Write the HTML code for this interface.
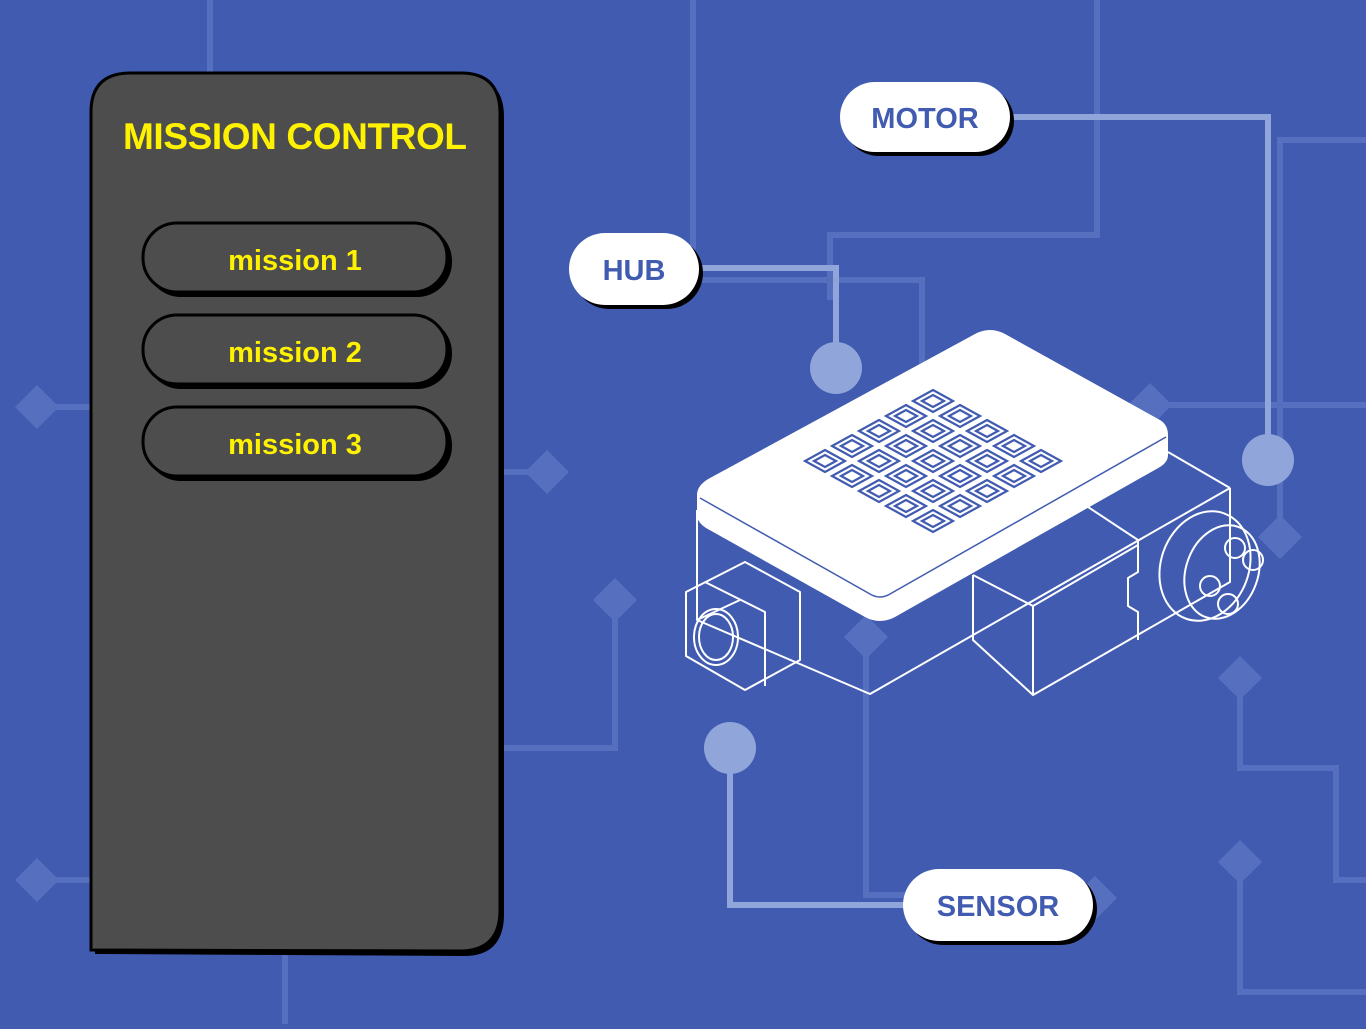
<!DOCTYPE html>
<html><head><meta charset="utf-8"><style>
html,body{margin:0;padding:0;}
body{width:1366px;height:1024px;background:#405bb0;overflow:hidden;font-family:"Liberation Sans",sans-serif;}
</style></head><body>
<svg width="1366" height="1024" viewBox="0 0 1366 1024" xmlns="http://www.w3.org/2000/svg">
<rect width="1366" height="1024" fill="#405bb0"/>
<g stroke="#5670bf" stroke-width="6" fill="none">
<path d="M210 0V80"/>
<path d="M693 0V250"/>
<path d="M1097 0V235H830V300"/>
<path d="M700 280H922V400"/>
<path d="M1366 140H1280V540"/>
<path d="M1150 405H1366"/>
<path d="M37 407H92"/><path d="M37 880H92"/>
<path d="M500 472H547"/>
<path d="M615 600V748H500"/>
<path d="M866 637V895H905"/>
<path d="M1240 678V768H1336V880H1366"/>
<path d="M1240 862V992H1366"/>
<path d="M285 955V1024"/>
</g>
<g fill="#5670bf">
<path d="M37 385l22 22-22 22-22-22z"/><path d="M547 450l22 22-22 22-22-22z"/>
<path d="M615 578l22 22-22 22-22-22z"/><path d="M866 615l22 22-22 22-22-22z"/>
<path d="M1150 383l22 22-22 22-22-22z"/><path d="M1280 515l22 22-22 22-22-22z"/>
<path d="M1240 656l22 22-22 22-22-22z"/><path d="M1240 840l22 22-22 22-22-22z"/>
<path d="M37 858l22 22-22 22-22-22z"/><path d="M1095 876l22 22-22 22-22-22z"/>
</g>
<g stroke="#90a6da" stroke-width="6" fill="none">
<path d="M1010 117H1268V450"/><path d="M700 268H836V360"/><path d="M730 750V905H905"/>
</g>
<g fill="#90a6da"><circle cx="1268" cy="460" r="26"/><circle cx="836" cy="368" r="26"/><circle cx="730" cy="748" r="26"/></g>

<g stroke="#fff" stroke-width="2" fill="none" stroke-linejoin="round">
<path d="M697 510V620L870 694L1230 488"/>
<path d="M697 620L740 600"/>
<path d="M973 575V640L1033 695L1230 582V488"/>
<path d="M1033 695V606L973 575"/>
<path d="M1033 606L1138 545"/>
<path d="M1085 505L1138 540V572L1128 578V606L1138 612V640"/>
<path d="M1168 452L1230 488"/>
<path d="M686 592L745 562L800 592V660L745 690L686 656Z"/>
<path d="M705 582L765 612V686"/>
<ellipse cx="716" cy="637" rx="22" ry="28"/><ellipse cx="716" cy="637" rx="17" ry="23"/>
<ellipse cx="1205" cy="566" rx="44" ry="56" transform="rotate(20 1205 566)"/>
<ellipse cx="1222" cy="572" rx="36" ry="48" transform="rotate(20 1222 572)"/>
<circle cx="1235" cy="548" r="10"/><circle cx="1253" cy="560" r="10"/><circle cx="1210" cy="586" r="10"/><circle cx="1228" cy="604" r="10"/>
</g>
<path d="M697 495Q697 485 710 478L975 334Q990 326 1005 334L1160 420Q1168 425 1168 435V455Q1168 462 1160 467L895 617Q880 625 865 617L706 528Q697 522 697 515Z" fill="#fff"/>
<path d="M700 498L870 594Q880 600 890 594L1166 437" stroke="#405bb0" stroke-width="1.5" fill="none"/>
<g stroke="#405bb0" stroke-width="2.2" fill="none">
<path d="M933 390l20 11-20 11-20-11z M933 395l11 6-11 6-11-6z"/>
<path d="M960 405l20 11-20 11-20-11z M960 410l11 6-11 6-11-6z"/>
<path d="M987 420l20 11-20 11-20-11z M987 425l11 6-11 6-11-6z"/>
<path d="M1014 435l20 11-20 11-20-11z M1014 440l11 6-11 6-11-6z"/>
<path d="M1041 450l20 11-20 11-20-11z M1041 455l11 6-11 6-11-6z"/>
<path d="M906 405l20 11-20 11-20-11z M906 410l11 6-11 6-11-6z"/>
<path d="M933 420l20 11-20 11-20-11z M933 425l11 6-11 6-11-6z"/>
<path d="M960 435l20 11-20 11-20-11z M960 440l11 6-11 6-11-6z"/>
<path d="M987 450l20 11-20 11-20-11z M987 455l11 6-11 6-11-6z"/>
<path d="M1014 465l20 11-20 11-20-11z M1014 470l11 6-11 6-11-6z"/>
<path d="M879 420l20 11-20 11-20-11z M879 425l11 6-11 6-11-6z"/>
<path d="M906 435l20 11-20 11-20-11z M906 440l11 6-11 6-11-6z"/>
<path d="M933 450l20 11-20 11-20-11z M933 455l11 6-11 6-11-6z"/>
<path d="M960 465l20 11-20 11-20-11z M960 470l11 6-11 6-11-6z"/>
<path d="M987 480l20 11-20 11-20-11z M987 485l11 6-11 6-11-6z"/>
<path d="M852 435l20 11-20 11-20-11z M852 440l11 6-11 6-11-6z"/>
<path d="M879 450l20 11-20 11-20-11z M879 455l11 6-11 6-11-6z"/>
<path d="M906 465l20 11-20 11-20-11z M906 470l11 6-11 6-11-6z"/>
<path d="M933 480l20 11-20 11-20-11z M933 485l11 6-11 6-11-6z"/>
<path d="M960 495l20 11-20 11-20-11z M960 500l11 6-11 6-11-6z"/>
<path d="M825 450l20 11-20 11-20-11z M825 455l11 6-11 6-11-6z"/>
<path d="M852 465l20 11-20 11-20-11z M852 470l11 6-11 6-11-6z"/>
<path d="M879 480l20 11-20 11-20-11z M879 485l11 6-11 6-11-6z"/>
<path d="M906 495l20 11-20 11-20-11z M906 500l11 6-11 6-11-6z"/>
<path d="M933 510l20 11-20 11-20-11z M933 515l11 6-11 6-11-6z"/>
</g>

<path d="M95 954V115Q95 77 135 77H465Q504 77 504 117V914Q504 956 464 956Z" fill="#000"/>
<path d="M91 950V112Q91 73 131 73H461Q500 73 500 113V910Q500 951 460 951Z" fill="#4d4d4d" stroke="#000" stroke-width="3"/>
<text x="295" y="149" text-anchor="middle" font-family="Liberation Sans" font-weight="bold" font-size="37" fill="#fff200" textLength="344">MISSION CONTROL</text>
<g font-family="Liberation Sans" font-weight="bold" font-size="29" fill="#fff200" text-anchor="middle">
<rect x="146" y="226" width="306" height="71" rx="35" fill="#000"/>
<rect x="143" y="223" width="304" height="69" rx="34" fill="#4d4d4d" stroke="#000" stroke-width="3"/>
<text x="295" y="270">mission 1</text>
<rect x="146" y="318" width="306" height="71" rx="35" fill="#000"/>
<rect x="143" y="315" width="304" height="69" rx="34" fill="#4d4d4d" stroke="#000" stroke-width="3"/>
<text x="295" y="362">mission 2</text>
<rect x="146" y="410" width="306" height="71" rx="35" fill="#000"/>
<rect x="143" y="407" width="304" height="69" rx="34" fill="#4d4d4d" stroke="#000" stroke-width="3"/>
<text x="295" y="454">mission 3</text>
</g>

<g font-family="Liberation Sans" font-weight="bold" font-size="29" fill="#405bb0" text-anchor="middle">
<rect x="844" y="86" width="170" height="70" rx="35" fill="#000"/>
<rect x="840" y="82" width="170" height="70" rx="35" fill="#fff"/>
<text x="925" y="128">MOTOR</text>
<rect x="573" y="237" width="130" height="72" rx="36" fill="#000"/>
<rect x="569" y="233" width="130" height="72" rx="36" fill="#fff"/>
<text x="634" y="280">HUB</text>
<rect x="907" y="873" width="190" height="72" rx="36" fill="#000"/>
<rect x="903" y="869" width="190" height="72" rx="36" fill="#fff"/>
<text x="998" y="916">SENSOR</text>
</g>
</svg>
</body></html>
